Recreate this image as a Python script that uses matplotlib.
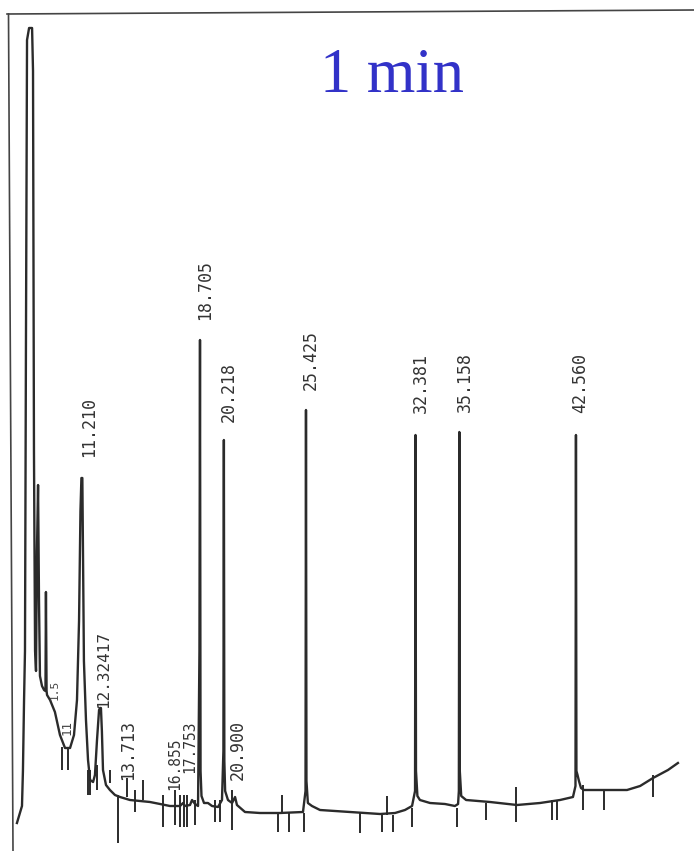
import matplotlib
matplotlib.use("Agg")
import matplotlib.pyplot as plt
from matplotlib.lines import Line2D

# detector trace (time in min, signal in arbitrary units)
t_trace = [7.09, 7.41, 7.47, 7.54, 7.60, 7.66, 7.73, 7.86, 8.05, 8.11, 8.17, 8.24, 8.30, 8.36,
           8.43, 8.49, 8.55, 8.68, 8.81, 8.90, 8.93, 8.97, 9.00, 9.19, 9.50, 9.82, 10.14, 10.46,
           10.71, 10.90, 11.03, 11.12, 11.18, 11.24, 11.28, 11.34, 11.47, 11.60, 11.73, 11.92,
           12.04, 12.17, 12.30, 12.36, 12.42, 12.48, 12.55, 12.74, 12.99, 13.31, 13.63, 14.26,
           14.90, 15.53, 16.17, 16.80, 17.44, 17.63, 17.75, 18.07, 18.20, 18.39, 18.58, 18.67,
           18.705, 18.74, 18.80, 18.96, 19.21, 19.47, 19.85, 20.10, 20.19, 20.22, 20.25, 20.30,
           20.48, 20.74, 20.93, 21.05, 21.56, 22.51, 23.78, 25.24, 25.40, 25.43, 25.46, 25.55,
           25.81, 26.32, 28.22, 30.13, 31.08, 31.71, 32.16, 32.35, 32.38, 32.41, 32.50, 32.66,
           33.30, 34.25, 34.88, 35.08, 35.13, 35.16, 35.19, 35.28, 35.59, 37.11, 38.82, 40.28,
           41.55, 42.37, 42.53, 42.56, 42.59, 42.66, 42.75, 42.88, 43.07, 44.09, 45.80, 46.63,
           47.45, 48.40, 49.03]
s_trace = [28, 45, 80, 150, 200, 500, 811, 823, 823, 780, 400, 200, 180, 300,
           366, 250, 175, 165, 161, 160, 259, 160, 156, 151, 139, 116, 103, 103,
           116, 151, 230, 340, 373, 373, 300, 190, 131, 91, 71, 69,
           76, 111, 141, 143, 143, 120, 81, 66, 61, 56, 54, 51,
           50, 49, 47, 45, 45, 48, 45, 46, 51, 47, 45, 200,
           511, 80, 55, 48, 48, 45, 44, 51, 100, 411, 90, 60,
           51, 48, 54, 46, 39, 38, 38, 39, 60, 441, 70, 48,
           45, 41, 39, 37, 38, 41, 45, 60, 416, 80, 55, 51,
           48, 47, 45, 47, 60, 419, 80, 55, 51, 49, 46, 48,
           51, 54, 65, 416, 80, 76, 70, 63, 61, 61, 61, 65,
           73, 81, 88]

# integration event marks: time, top, bottom
mark_t = [9.95, 10.33, 11.60, 11.73, 12.17, 12.99, 13.50, 14.07, 14.58, 15.09, 16.36, 17.12,
          17.44, 17.69, 17.88, 18.39, 19.66, 19.98, 20.74, 23.65, 23.91, 24.35, 25.30, 28.86,
          30.25, 30.57, 30.95, 32.16, 35.01, 36.85, 38.76, 41.04, 41.36, 43.00, 44.34, 47.45]
mark_top = [104, 104, 81, 81, 86, 81, 56, 73, 61, 71, 56, 61,
            56, 56, 56, 51, 51, 51, 61, 38, 56, 38, 38, 38,
            38, 55, 36, 43, 43, 48, 64, 51, 51, 66, 61, 76]
mark_bot = [81, 81, 56, 56, 61, 68, 8, 54, 39, 51, 24, 26,
            24, 24, 24, 26, 29, 29, 21, 19, 38, 19, 19, 18,
            19, 36, 19, 24, 24, 31, 29, 31, 31, 41, 41, 54]

# retention time labels (12.3/12.417 are overprinted on the original)
lab_text = ["11.210", "12.32417", "13.713", "16.855", "17.753", "18.705", "20.218",
            "20.900", "25.425", "32.381", "35.158", "42.560"]
lab_x = [11.66, 12.61, 14.14, 17.13, 18.03, 19.02, 20.55, 21.12, 25.75, 32.73, 35.52, 42.82]
lab_y = [394, 143, 71, 61, 78, 531, 429, 71, 461, 438, 439, 438]
lab_size = [12, 11.5, 12, 10.5, 10.5, 12, 12, 12, 12, 12, 12, 12]

fig = plt.figure(figsize=(6.94, 8.51), dpi=100)
ax = fig.add_axes([0, 0, 1, 1])
ax.set_xlim(6.015, 50.05)
ax.set_ylim(0, 851)
ax.axis("off")

ink = "#2b2b2b"
ax.plot(t_trace, s_trace, color=ink, lw=1.7, solid_joinstyle="round")
ax.vlines(mark_t, mark_bot, mark_top, color=ink, lw=1.4)

for txt, x, y, fs in zip(lab_text, lab_x, lab_y, lab_size):
    ax.text(x, y, txt, rotation=90, ha="center", va="bottom", fontsize=fs,
            family="DejaVu Sans Mono", color="#333333")

# half-printed labels in the solvent tail
ax.text(9.50, 151, "1.5", rotation=90, ha="center", va="bottom", fontsize=8,
        family="DejaVu Sans Mono", color="#444444")
ax.text(10.26, 116, "11", rotation=90, ha="center", va="bottom", fontsize=9,
        family="DejaVu Sans Mono", color="#444444")

ax.text(30.89, 759, "1 min", ha="center", va="baseline", fontsize=45,
        family="Liberation Serif", color="#3232c8")

# paper frame (slightly skewed scan)
fig.add_artist(Line2D([7 / 694, 1], [1 - 14 / 851, 1 - 10 / 851], color="#444444", lw=1.2))
fig.add_artist(Line2D([8.5 / 694, 13 / 694], [1 - 14 / 851, 0], color="#444444", lw=1.2))

fig.savefig("out.png", dpi=100, facecolor="white")
